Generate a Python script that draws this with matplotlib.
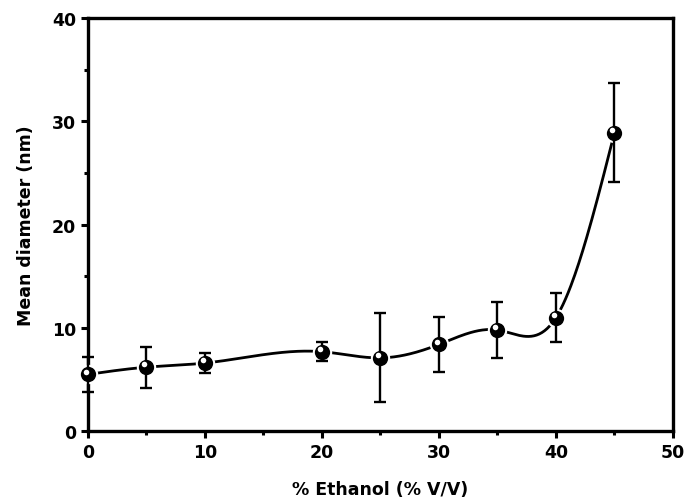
import matplotlib.pyplot as plt
import matplotlib.transforms as mtransforms
import numpy as np
from matplotlib.ticker import MultipleLocator

# data
ethanol = [0, 5, 10, 20, 25, 30, 35, 40, 45]
diameter = [5.5, 6.2, 6.6, 7.7, 7.1, 8.4, 9.8, 11.0, 28.9]
err = [1.7, 2.0, 1.0, 0.9, 4.3, 2.7, 2.7, 2.4, 4.8]


def natural_spline(x, y, xs):
    x = np.asarray(x, float)
    y = np.asarray(y, float)
    n = len(x)
    h = np.diff(x)
    A = np.zeros((n, n))
    b = np.zeros(n)
    A[0, 0] = A[-1, -1] = 1
    for i in range(1, n - 1):
        A[i, i - 1] = h[i - 1]
        A[i, i] = 2 * (h[i - 1] + h[i])
        A[i, i + 1] = h[i]
        b[i] = 6 * ((y[i + 1] - y[i]) / h[i] - (y[i] - y[i - 1]) / h[i - 1])
    M = np.linalg.solve(A, b)
    k = np.clip(np.searchsorted(x, xs) - 1, 0, n - 2)
    t1 = x[k + 1] - xs
    t0 = xs - x[k]
    hk = h[k]
    return (M[k] * t1**3 + M[k + 1] * t0**3) / (6 * hk) \
        + (y[k] / hk - M[k] * hk / 6) * t1 + (y[k + 1] / hk - M[k + 1] * hk / 6) * t0


plt.rcParams['font.family'] = ['DejaVu Sans']
plt.rcParams['font.weight'] = 'bold'

fig = plt.figure(figsize=(6.86, 5.02), dpi=100)
ax = fig.add_axes([0.128, 0.139, 0.853, 0.823])

xs = np.linspace(0, 45, 400)
ax.plot(xs, natural_spline(ethanol, diameter, xs), color='black', lw=2, zorder=2)
# white halo makes the small gaps in the curve around each sphere
ax.plot(ethanol, diameter, 'o', ms=14, mfc='white', mec='white', mew=0, zorder=3,
        clip_on=False)
ax.errorbar(ethanol, diameter, yerr=err, fmt='none', ecolor='black',
            elinewidth=1.7, capsize=4, capthick=1.7, zorder=4, clip_on=False)
ax.plot(ethanol, diameter, 'o', ms=11, mfc='black', mec='black', mew=0, zorder=5,
        clip_on=False)
# specular highlight on the spheres
shift = mtransforms.ScaledTranslation(-1.5 / 72, 2 / 72, fig.dpi_scale_trans)
ax.plot(ethanol, diameter, 'o', ms=4, mfc='white', mec='none', zorder=6,
        clip_on=False, transform=ax.transData + shift)

ax.set_xlim(0, 50)
ax.set_ylim(0, 40)
ax.xaxis.set_major_locator(MultipleLocator(10))
ax.xaxis.set_minor_locator(MultipleLocator(5))
ax.yaxis.set_major_locator(MultipleLocator(10))
ax.yaxis.set_minor_locator(MultipleLocator(5))
ax.tick_params(which='major', direction='out', length=5, width=2.2, labelsize=12.5)
ax.tick_params(which='minor', direction='out', length=3, width=2.2)
for s in ax.spines.values():
    s.set_linewidth(2.4)
ax.set_xlabel('% Ethanol (% V/V)', fontsize=12.5, fontweight='bold', labelpad=14)
ax.set_ylabel('Mean diameter (nm)', fontsize=12.5, fontweight='bold', labelpad=12)

fig.savefig('out.png', dpi=100)
